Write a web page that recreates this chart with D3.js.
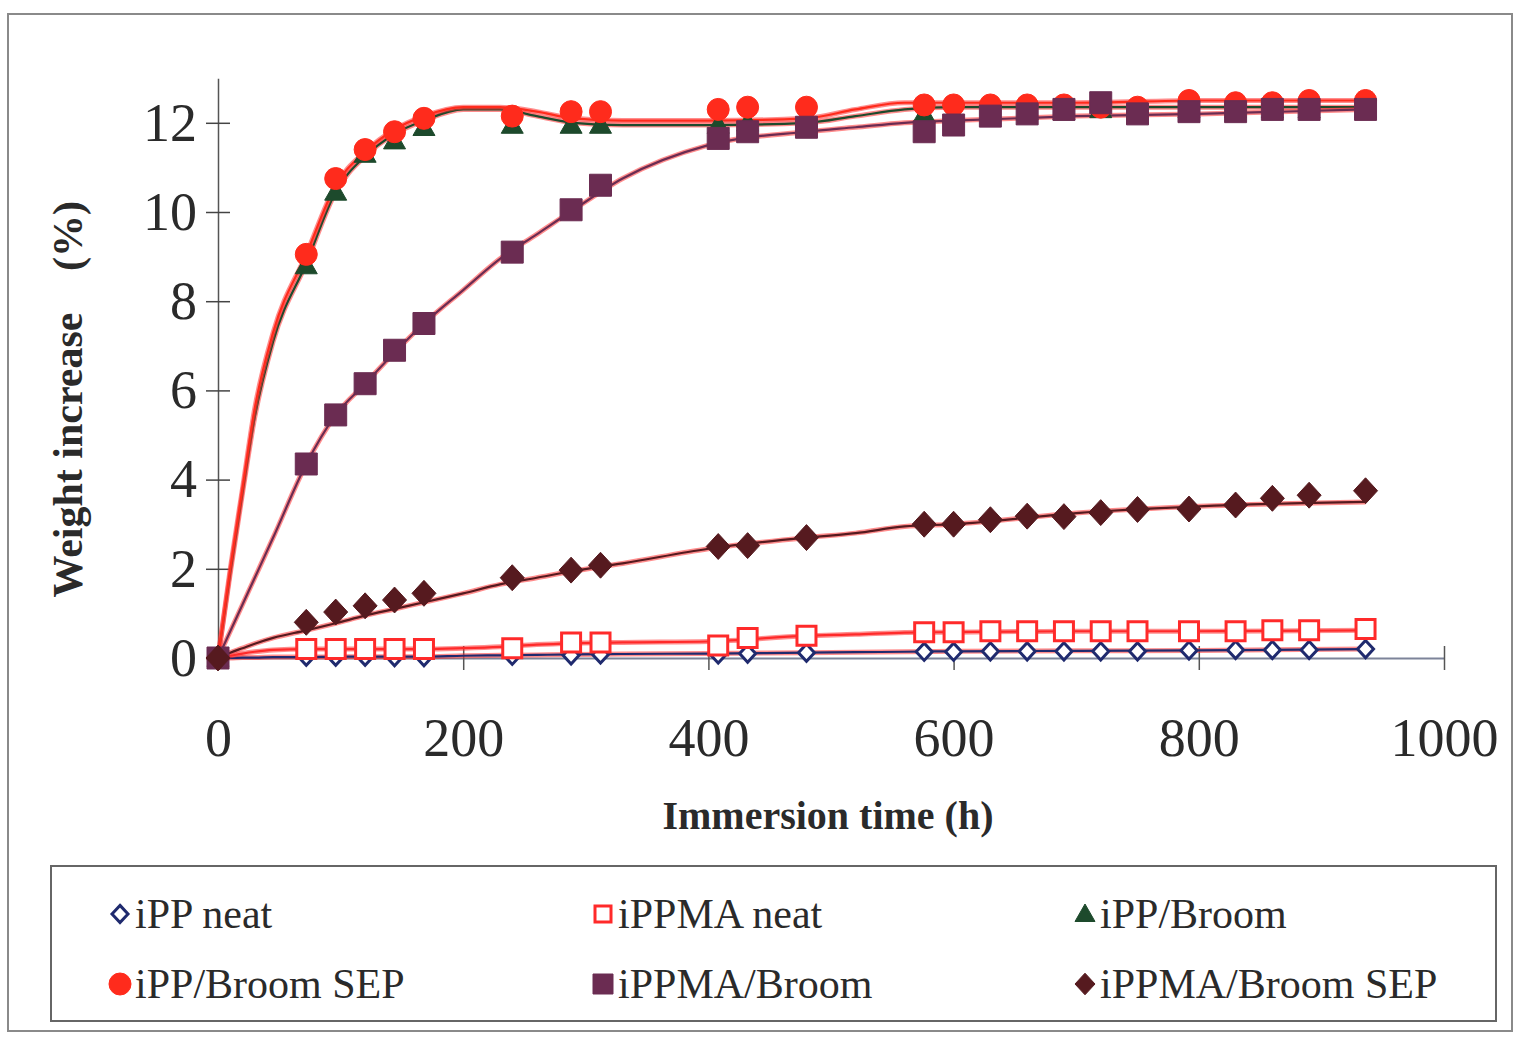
<!DOCTYPE html>
<html>
<head>
<meta charset="utf-8">
<script src="https://cdn.jsdelivr.net/npm/d3@7"></script>
<style>
  body { margin: 0; background: #fff; }
  svg { display: block; }
</style>
</head>
<body>
<div id="chart"></div>
<script>
// sampling times (h) of the measured points
const times = [0, 72, 96, 120, 144, 168, 240, 288, 312, 408, 432, 480, 576, 600, 630, 660, 690, 720, 750, 792, 830, 860, 890, 936];

// measured weight increase (%)
const ippNeat       = [0, 0.03, 0.03, 0.03, 0.02, 0.02, 0.05, 0.06, 0.08, 0.08, 0.1, 0.12, 0.14, 0.14, 0.15, 0.15, 0.15, 0.15, 0.15, 0.17, 0.18, 0.18, 0.18, 0.2];
const ippmaNeat     = [0, 0.2, 0.2, 0.2, 0.2, 0.2, 0.22, 0.35, 0.35, 0.28, 0.45, 0.5, 0.58, 0.58, 0.6, 0.6, 0.6, 0.6, 0.6, 0.6, 0.6, 0.62, 0.62, 0.65];
const ippBroom      = [0, 8.8, 10.45, 11.3, 11.6, 11.9, 11.95, 11.95, 11.95, 11.95, 12.0, 12.1, 12.2, 12.2, 12.25, 12.25, 12.25, 12.3, 12.3, 12.3, 12.3, 12.3, 12.3, 12.3];
const ippBroomSep   = [0, 9.05, 10.75, 11.4, 11.8, 12.1, 12.15, 12.25, 12.25, 12.3, 12.35, 12.35, 12.4, 12.4, 12.4, 12.4, 12.4, 12.35, 12.35, 12.5, 12.45, 12.45, 12.5, 12.5];
const ippmaBroom    = [0, 4.35, 5.45, 6.15, 6.9, 7.5, 9.1, 10.05, 10.6, 11.65, 11.8, 11.9, 11.8, 11.95, 12.15, 12.2, 12.3, 12.45, 12.2, 12.25, 12.25, 12.3, 12.3, 12.3];
const ippmaBroomSep = [0, 0.8, 1.03, 1.17, 1.3, 1.45, 1.8, 1.97, 2.08, 2.5, 2.52, 2.7, 3.0, 3.0, 3.1, 3.18, 3.17, 3.26, 3.33, 3.34, 3.43, 3.58, 3.65, 3.75];

// fitted curves
const fitTimes = [0, 10, 20, 30, 45, 72, 96, 120, 144, 168, 200, 230, 260, 290, 330, 400, 480, 520, 560, 600, 700, 800, 936];
const fitIppNeat       = [0, 0, 0.01, 0.01, 0.02, 0.02, 0.03, 0.03, 0.03, 0.03, 0.05, 0.06, 0.07, 0.08, 0.09, 0.1, 0.12, 0.13, 0.14, 0.15, 0.16, 0.17, 0.2];
const fitIppmaNeat     = [0, 0.05, 0.1, 0.14, 0.18, 0.2, 0.2, 0.2, 0.2, 0.2, 0.22, 0.25, 0.3, 0.33, 0.35, 0.37, 0.5, 0.53, 0.57, 0.58, 0.6, 0.6, 0.62];
const fitIppBroom      = [0, 1.9, 3.7, 5.4, 7.1, 8.85, 10.45, 11.25, 11.75, 12.05, 12.3, 12.3, 12.15, 12.0, 11.95, 11.95, 12.0, 12.15, 12.3, 12.35, 12.35, 12.35, 12.35];
const fitIppBroomSep   = [0, 2.0, 3.8, 5.6, 7.3, 9.05, 10.6, 11.35, 11.85, 12.15, 12.35, 12.35, 12.25, 12.1, 12.05, 12.05, 12.1, 12.3, 12.45, 12.45, 12.45, 12.5, 12.5];
const fitIppmaBroom    = [0, 0.6, 1.2, 1.8, 2.7, 4.35, 5.45, 6.15, 6.85, 7.5, 8.25, 8.95, 9.5, 10.05, 10.75, 11.5, 11.8, 11.9, 12.0, 12.05, 12.15, 12.2, 12.3];
const fitIppmaBroomSep = [0, 0.12, 0.22, 0.32, 0.45, 0.62, 0.78, 0.95, 1.1, 1.25, 1.45, 1.65, 1.8, 1.95, 2.12, 2.45, 2.7, 2.8, 2.95, 3.0, 3.25, 3.4, 3.5];

const xTicks = [0, 200, 400, 600, 800, 1000];
const yTicks = [0, 2, 4, 6, 8, 10, 12];

const series = [
  {name: "iPP neat",        vals: ippNeat,       fit: fitIppNeat,       shape: "diamond",  color: "#1f2a6e", open: true,  size: 16},
  {name: "iPPMA neat",      vals: ippmaNeat,     fit: fitIppmaNeat,     shape: "square",   color: "#ff2a2a", open: true,  size: 19},
  {name: "iPP/Broom",       vals: ippBroom,      fit: fitIppBroom,      shape: "triangle", color: "#1d4a2c", open: false, size: 22},
  {name: "iPP/Broom SEP",   vals: ippBroomSep,   fit: fitIppBroomSep,   shape: "circle",   color: "#ff2b1c", open: false, size: 22},
  {name: "iPPMA/Broom",     vals: ippmaBroom,    fit: fitIppmaBroom,    shape: "square",   color: "#6b2c52", open: false, size: 22},
  {name: "iPPMA/Broom SEP", vals: ippmaBroomSep, fit: fitIppmaBroomSep, shape: "diamond",  color: "#561a1f", open: false, size: 24}
];

const W = 1523, H = 1038;
const svg = d3.select("#chart").append("svg")
  .attr("width", W).attr("height", H);

svg.append("rect").attr("width", W).attr("height", H).attr("fill", "#fff");

// outer frame
svg.append("rect")
  .attr("x", 8).attr("y", 14).attr("width", 1504).attr("height", 1017)
  .attr("fill", "none").attr("stroke", "#8a8a8a").attr("stroke-width", 2);

const x = d3.scaleLinear().domain([0, 1000]).range([218, 1444]);
const y = d3.scaleLinear().domain([0, 13]).range([658, 658 - 13 * 44.6]);

const serif = "'Liberation Serif', 'Times New Roman', serif";

// y axis with crossing ticks
const gy = svg.append("g")
  .attr("transform", `translate(${x(0)},0)`)
  .call(d3.axisLeft(y).tickValues(yTicks).tickSize(12).tickSizeOuter(0).tickPadding(9));
gy.selectAll(".tick line").attr("x1", 12).attr("stroke", "#444").attr("stroke-width", 1.5);
gy.select(".domain").attr("stroke", "#555").attr("stroke-width", 1.5);
gy.selectAll(".tick text")
  .attr("font-family", serif).attr("font-size", 54).attr("fill", "#2a2a2a");

// x axis
const gx = svg.append("g")
  .attr("transform", `translate(0,${y(0)})`)
  .call(d3.axisBottom(x).tickValues(xTicks).tickFormat(d3.format("d"))
    .tickSize(12).tickSizeOuter(0).tickPadding(48));
gx.selectAll(".tick line").attr("y1", -12).attr("stroke", "#555").attr("stroke-width", 1.5);
gx.select(".domain").attr("stroke", "#7d8499").attr("stroke-width", 1.8);
gx.selectAll(".tick text")
  .attr("font-family", serif).attr("font-size", 54).attr("fill", "#2a2a2a");

// axis titles
svg.append("text")
  .attr("x", 828).attr("y", 829)
  .attr("text-anchor", "middle")
  .attr("font-family", serif).attr("font-weight", "bold").attr("font-size", 40)
  .attr("fill", "#2a2a2a")
  .text("Immersion time (h)");

svg.append("text")
  .attr("transform", "translate(82,455) rotate(-90)")
  .attr("text-anchor", "middle")
  .attr("font-family", serif).attr("font-weight", "bold").attr("font-size", 42)
  .attr("fill", "#2a2a2a")
  .text("Weight increase");

svg.append("text")
  .attr("transform", "translate(82,236) rotate(-90)")
  .attr("text-anchor", "middle")
  .attr("font-family", serif).attr("font-weight", "bold").attr("font-size", 42)
  .attr("fill", "#2a2a2a")
  .text("(%)");

// lines: red halo under a line in the series colour
const line = d3.line()
  .x((d, i) => x(fitTimes[i]))
  .y(d => y(d))
  .curve(d3.curveMonotoneX);

const lines = svg.append("g").attr("fill", "none");
series.forEach(s => {
  lines.append("path")
    .attr("d", line(s.fit))
    .attr("stroke", "#ff3030").attr("stroke-opacity", 0.55).attr("stroke-width", 5);
  lines.append("path")
    .attr("d", line(s.fit))
    .attr("stroke", s.color).attr("stroke-width", 2.2);
});

// marker outlines centred on 0,0; size is the full width in px
function markerPath(shape, size) {
  const r = size / 2;
  if (shape === "square") return `M${-r},${-r}H${r}V${r}H${-r}Z`;
  if (shape === "circle") return d3.symbol().type(d3.symbolCircle).size(Math.PI * r * r)();
  if (shape === "diamond") {
    const h = r * 1.08;
    return `M0,${-h}L${r},0L0,${h}L${-r},0Z`;
  }
  // triangle
  return `M0,${-r}L${r},${r * 0.75}L${-r},${r * 0.75}Z`;
}

// markers, drawn in the picture's stacking order
series.forEach(s => {
  svg.append("g")
    .selectAll("path")
    .data(s.vals)
    .join("path")
      .attr("transform", (d, i) => `translate(${x(times[i])},${y(d)})`)
      .attr("d", markerPath(s.shape, s.size))
      .attr("fill", s.open ? "#fff" : s.color)
      .attr("stroke", s.color)
      .attr("stroke-width", s.open ? 3 : 1);
});

// legend
svg.append("rect")
  .attr("x", 51).attr("y", 866).attr("width", 1445).attr("height", 155)
  .attr("fill", "none").attr("stroke", "#666").attr("stroke-width", 2);

const legCols = [120, 603, 1085];
const legRows = [914, 984];
series.forEach((s, i) => {
  const cx = legCols[i % 3], cy = legRows[Math.floor(i / 3)];
  const sz = s.shape === "circle" ? 22 : (s.open ? 16 : 20);
  svg.append("path")
    .attr("transform", `translate(${cx},${cy})`)
    .attr("d", markerPath(s.shape, sz))
    .attr("fill", s.open ? "#fff" : s.color)
    .attr("stroke", s.color)
    .attr("stroke-width", s.open ? 3 : 1);
  svg.append("text")
    .attr("x", cx + 15).attr("y", cy + 14)
    .attr("font-family", serif).attr("font-size", 42)
    .attr("fill", "#2a2a2a")
    .text(s.name);
});
</script>
</body>
</html>
